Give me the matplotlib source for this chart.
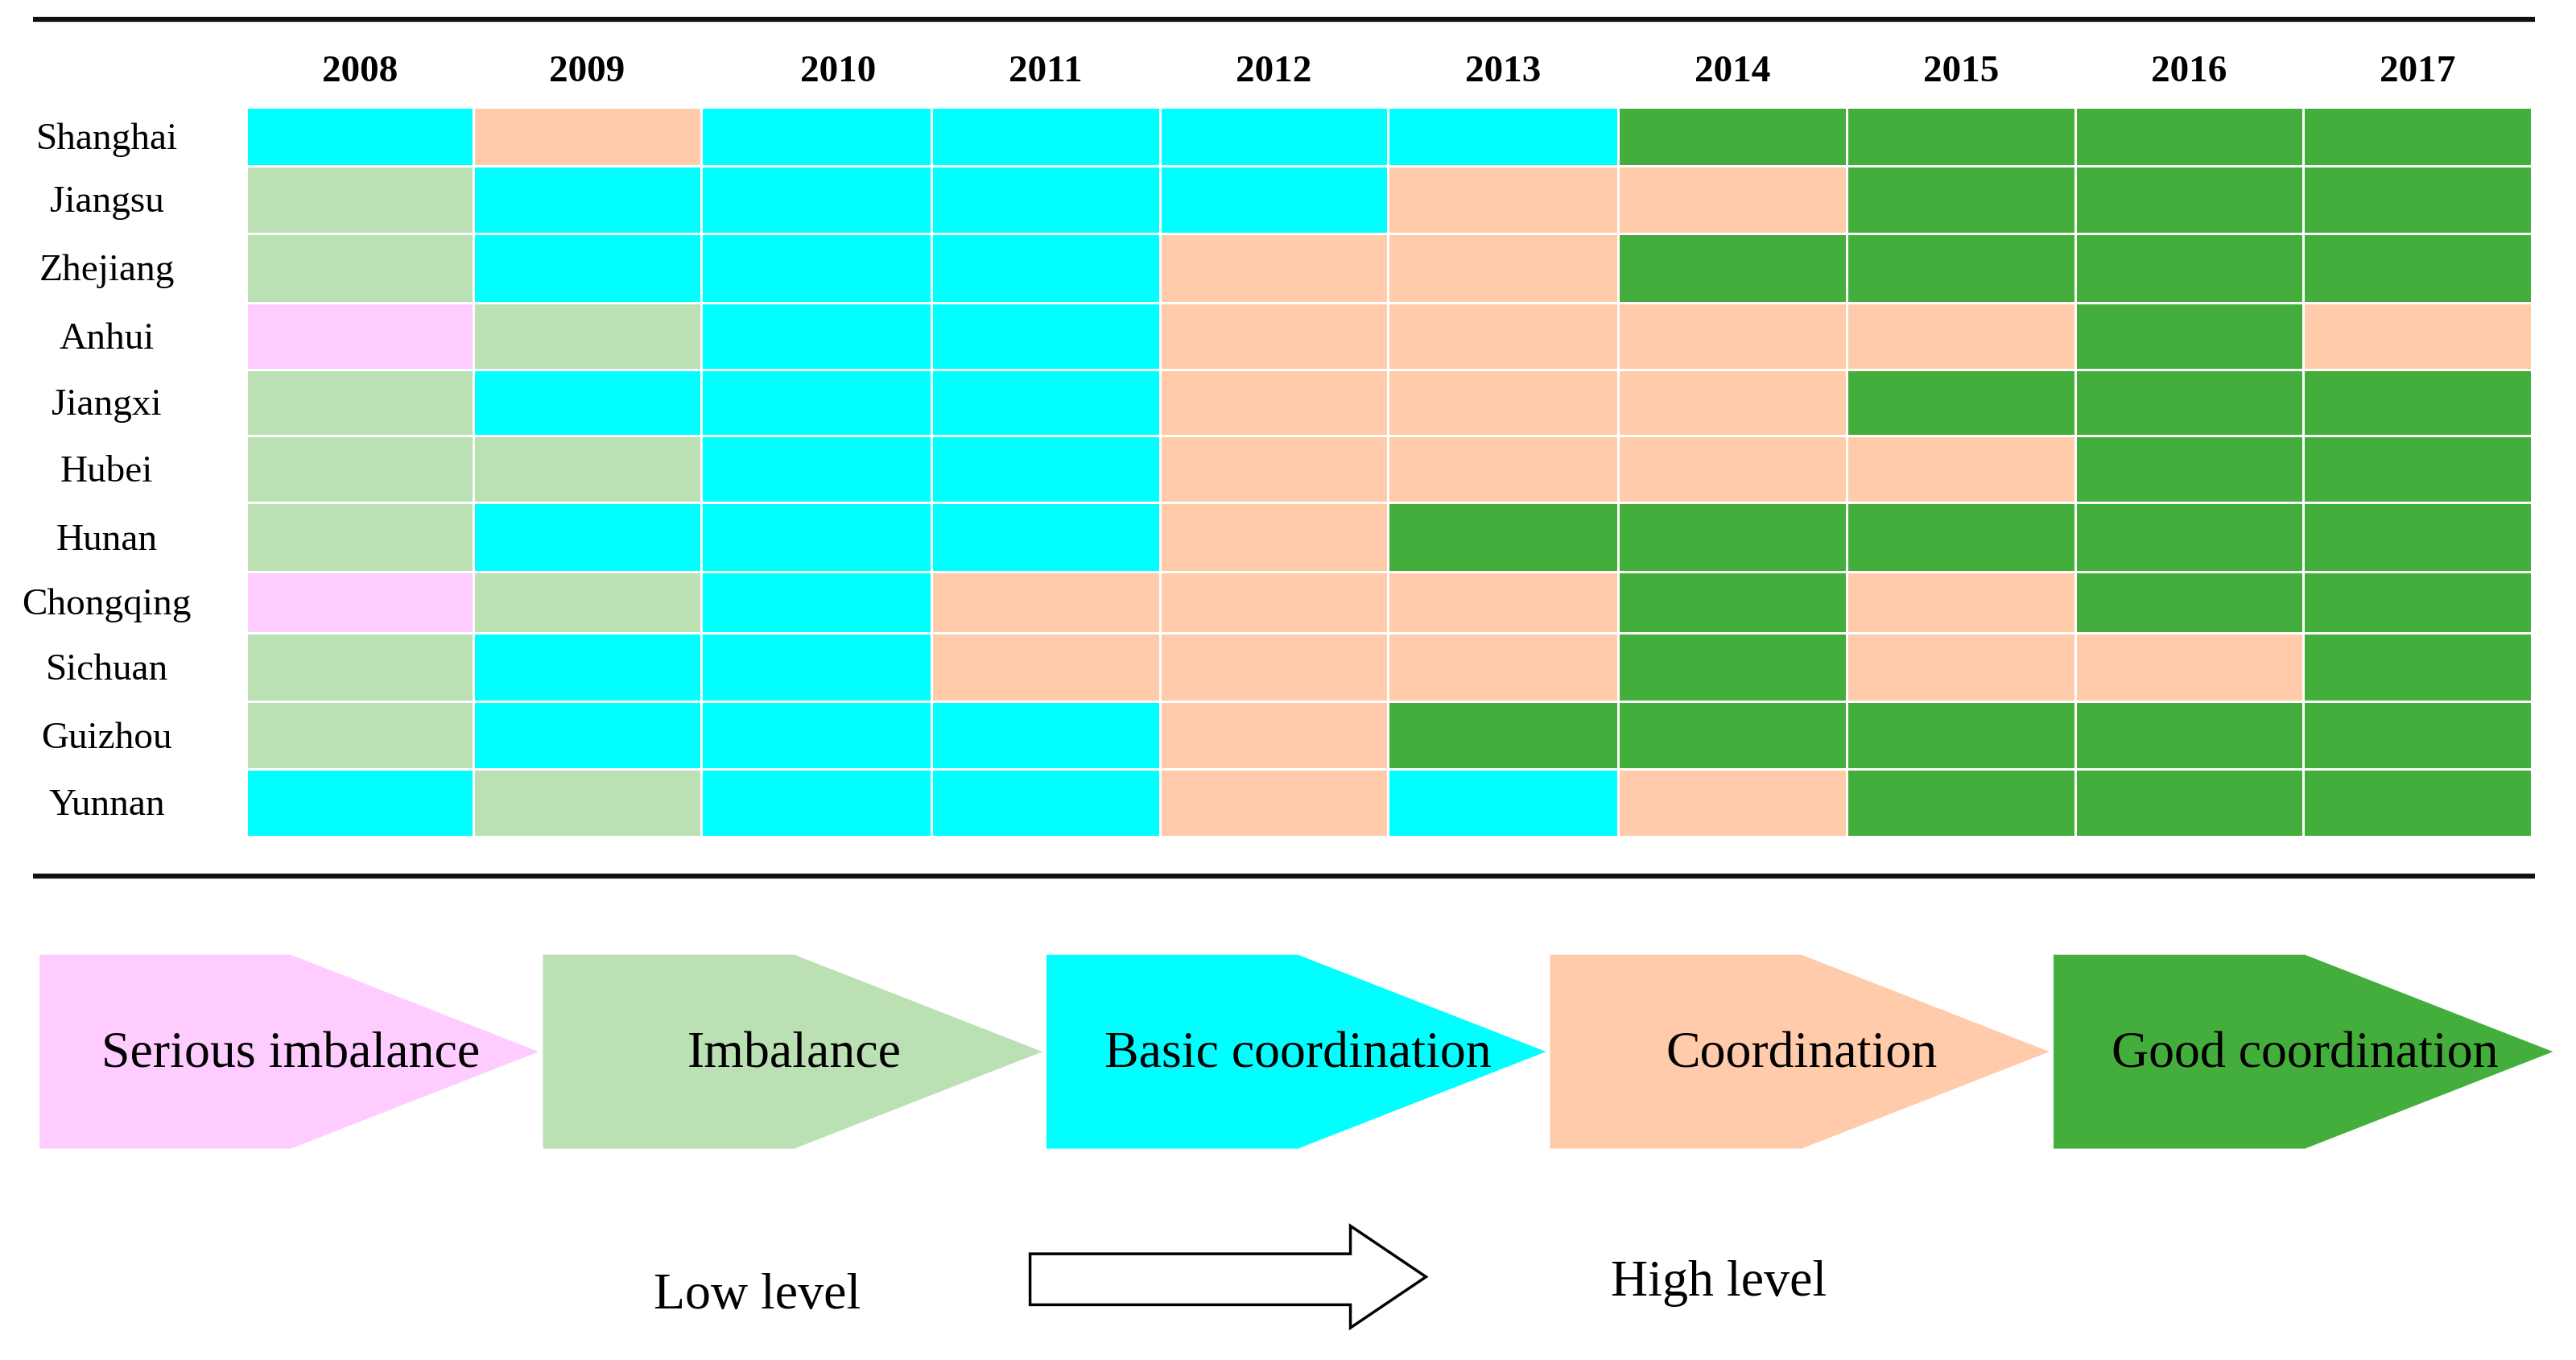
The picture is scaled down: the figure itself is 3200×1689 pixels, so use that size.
import numpy as np
from matplotlib import pyplot as plt
from matplotlib.colors import ListedColormap, BoundaryNorm
from matplotlib.patches import Polygon

plt.rcParams['font.family'] = ['Liberation Serif', 'DejaVu Serif']

years = ['2008', '2009', '2010', '2011', '2012', '2013', '2014', '2015', '2016', '2017']
provinces = ['Shanghai', 'Jiangsu', 'Zhejiang', 'Anhui', 'Jiangxi', 'Hubei',
             'Hunan', 'Chongqing', 'Sichuan', 'Guizhou', 'Yunnan']
levels = ['Serious imbalance', 'Imbalance', 'Basic coordination',
          'Coordination', 'Good coordination']
level_colors = ['#FFCCFF', '#BBE0B3', '#00FFFF', '#FFCBAA', '#43AE3B']

# 0 serious imbalance ... 4 good coordination
grades = [
    [2, 3, 2, 2, 2, 2, 4, 4, 4, 4],  # Shanghai
    [1, 2, 2, 2, 2, 3, 3, 4, 4, 4],  # Jiangsu
    [1, 2, 2, 2, 3, 3, 4, 4, 4, 4],  # Zhejiang
    [0, 1, 2, 2, 3, 3, 3, 3, 4, 3],  # Anhui
    [1, 2, 2, 2, 3, 3, 3, 4, 4, 4],  # Jiangxi
    [1, 1, 2, 2, 3, 3, 3, 3, 4, 4],  # Hubei
    [1, 2, 2, 2, 3, 4, 4, 4, 4, 4],  # Hunan
    [0, 1, 2, 3, 3, 3, 4, 3, 4, 4],  # Chongqing
    [1, 2, 2, 3, 3, 3, 4, 3, 3, 4],  # Sichuan
    [1, 2, 2, 2, 3, 4, 4, 4, 4, 4],  # Guizhou
    [2, 1, 2, 2, 3, 2, 3, 4, 4, 4],  # Yunnan
]

# layout (canvas units, 1568 wide)
W = 1568
H = W * 1689 / 3200
col_edges = [150, 288, 427, 567, 706, 845, 985, 1124, 1263, 1402, 1541]
row_edges = [65, 101, 142, 184, 225, 265, 306, 348, 385, 427, 468, 509]

fig = plt.figure(figsize=(32, 16.89), dpi=100)
ax = fig.add_axes([0, 0, 1, 1])
ax.set_xlim(0, W)
ax.set_ylim(H, 0)
ax.axis('off')

cmap = ListedColormap(level_colors)
norm = BoundaryNorm(np.arange(-0.5, 5.5, 1), cmap.N)
ax.pcolormesh(col_edges, row_edges, np.array(grades), cmap=cmap, norm=norm,
              edgecolors='white', linewidth=2)

# header and row labels
for j, y in enumerate(years):
    xc = (col_edges[j] + col_edges[j + 1]) / 2
    if y == '2010':
        xc += 13
    ax.text(xc, 44, y, ha='center', va='center', fontsize=34, fontweight='bold')
for i, p in enumerate(provinces):
    yc = (row_edges[i] + row_edges[i + 1]) / 2
    ax.text(65, yc + 2, p, ha='center', va='center', fontsize=34)

# rules
ax.plot([20, 1543], [12, 12], color='#111111', lw=4.5, solid_capstyle='butt')
ax.plot([20, 1543], [533, 533], color='#111111', lw=4.5, solid_capstyle='butt')

# legend arrows
x0, step, body, point = 24, 306.5, 153, 151
top, bot = 581, 699
mid = (top + bot) / 2
for k, (lab, c) in enumerate(zip(levels, level_colors)):
    xs = x0 + k * step
    poly = Polygon([(xs, top), (xs + body, top), (xs + body + point, mid),
                    (xs + body, bot), (xs, bot)], closed=True,
                   facecolor=c, edgecolor='none')
    ax.add_patch(poly)
    ax.text(xs + body, mid + 2, lab, ha='center', va='center', fontsize=46)

# low -> high arrow
arrow = Polygon([(627, 763), (822, 763), (822, 746), (868, 777),
                 (822, 808), (822, 794), (627, 794)], closed=True,
                facecolor='white', edgecolor='black', lw=2.5)
ax.add_patch(arrow)
ax.text(461, 789, 'Low level', ha='center', va='center', fontsize=46)
ax.text(1046, 781, 'High level', ha='center', va='center', fontsize=46)

plt.savefig('out.png', dpi=100)
